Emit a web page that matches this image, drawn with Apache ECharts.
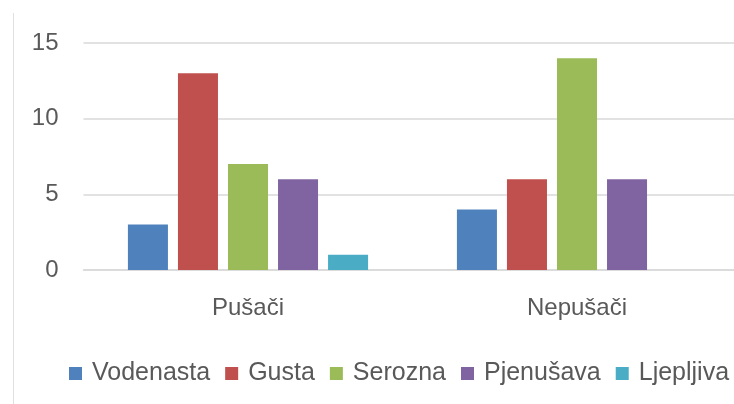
<!DOCTYPE html>
<html><head><meta charset="utf-8">
<script src="https://cdn.jsdelivr.net/npm/echarts@6/dist/echarts.min.js"></script>
<style>html,body{margin:0;padding:0;background:#fff}#c{width:734px;height:404px}</style>
</head><body><div id="c"></div>
<script>
const categories = ['Pušači', 'Nepušači'];
const seriesNames = ['Vodenasta', 'Gusta', 'Serozna', 'Pjenušava', 'Ljepljiva'];
const vodenasta = [3, 4];
const gusta = [13, 6];
const serozna = [7, 14];
const pjenusava = [6, 6];
const ljepljiva = [1, 0];
const colors = ['#4F81BD', '#C0504D', '#9BBB59', '#8064A2', '#4BACC6'];
const values = [vodenasta, gusta, serozna, pjenusava, ljepljiva];
const font = 'Liberation Sans';
const chart = echarts.init(document.getElementById('c'));
chart.setOption({
  animation: false,
  color: colors,
  grid: {left: 83.5, width: 658, top: 43, height: 227, containLabel: false, outerBoundsMode: 'none'},
  legend: {
    top: 356, left: 64, width: 700, itemWidth: 13, itemHeight: 13, itemGap: 15, icon: 'rect',
    textStyle: {color: '#595959', fontSize: 25, fontFamily: font, padding: [0, 0, 0, 5]},
    data: seriesNames
  },
  graphic: [{type: 'line', shape: {x1: 13.5, y1: 13, x2: 13.5, y2: 404}, style: {stroke: '#e0e0e0', lineWidth: 1}}],
  xAxis: {
    type: 'category', data: categories,
    axisLine: {lineStyle: {color: '#d9d9d9', width: 1.5}},
    axisTick: {show: false},
    axisLabel: {color: '#595959', fontSize: 24, fontFamily: font, margin: 26}
  },
  yAxis: {
    type: 'value', min: 0, max: 15, interval: 5,
    axisLine: {show: false}, axisTick: {show: false},
    splitLine: {lineStyle: {color: '#d9d9d9', width: 1.5}},
    axisLabel: {color: '#595959', fontSize: 24, fontFamily: font, margin: 25}
  },
  series: seriesNames.map((n, i) => ({
    name: n, type: 'bar', data: values[i],
    barGap: '25%', barCategoryGap: '27%'
  }))
});
</script></body></html>
